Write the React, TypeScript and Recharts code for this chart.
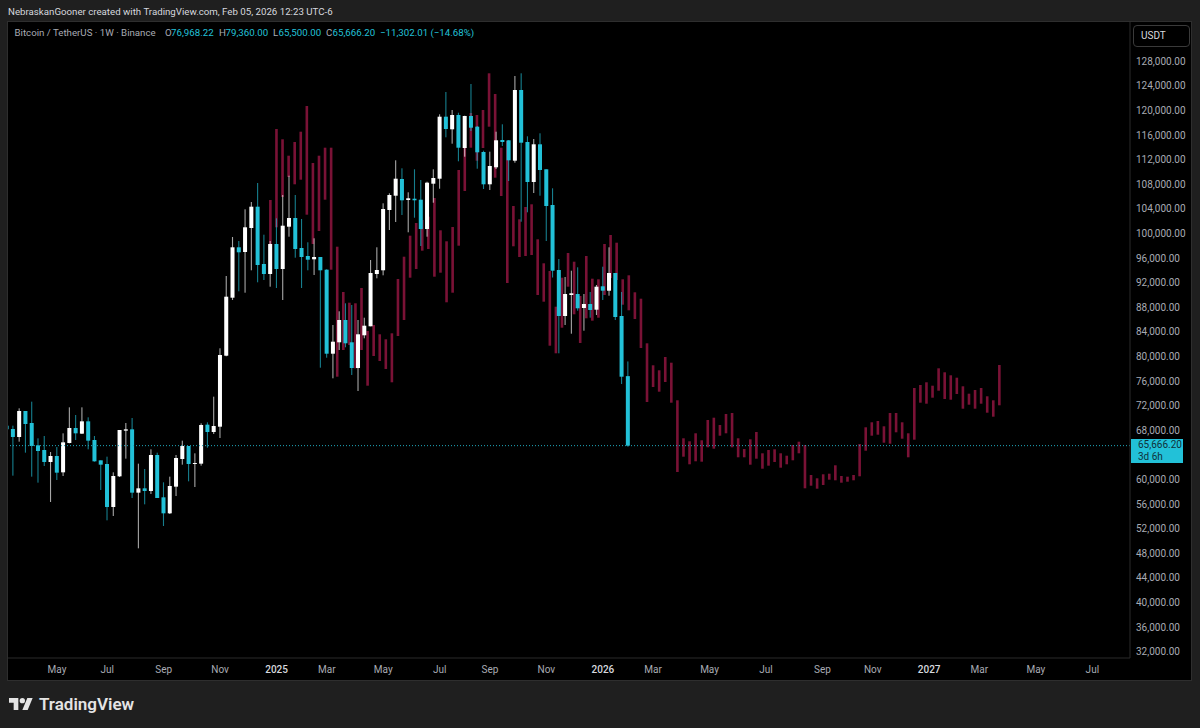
import {
  Bar,
  ComposedChart,
  ReferenceLine,
  XAxis,
  YAxis,
} from "recharts";

// weekly candles, first one is cut off by the left edge of the pane
const candleOpen = [
  68910, 68375, 67074, 71301, 69350, 65719, 64960, 63009, 63984, 61329, 66098,
  68537, 67616, 69621, 66586, 63280, 62684, 55692, 60678, 68104, 68320,
  58022, 58727, 58293, 64147, 57264, 54662, 58998, 63497, 65610, 62684,
  62738, 69079, 67887, 68749, 80293, 89724, 97919, 97155, 101057, 104521,
  95204, 93578, 98456, 94391, 101269, 102683, 97805, 96504, 95968, 96342,
  94277, 80618, 82472, 86098, 82472, 78293, 83610, 85074, 93578, 94179,
  103984, 106309, 109025, 105610, 105821, 105659, 100895, 108260, 109073, 119155,
  117106, 119431, 114065, 119268, 117529, 113415, 108163, 110927, 115366, 115317,
  112000, 123496, 115041, 108537, 114667, 110602, 104797, 94228, 86748, 90163,
  90326, 88049, 88700, 87773, 91578, 90862, 93740, 86748, 76968,
];
const candleHigh = [
  69400, 68917, 71735, 71301, 72819, 66857, 67236, 64635, 65448, 67670, 71898,
  70651, 71898, 70272, 67236, 63280, 63876, 61329, 68212, 69350, 70163,
  62738, 61871, 65069, 64526, 59703, 60624, 64147, 66478, 65610, 64418,
  69296, 69459, 73632, 81496, 93252, 99594, 98943, 104098, 105285, 108374,
  99968, 98943, 102634, 106423, 109561, 106423, 102521, 98732, 99382, 96342,
  94342, 85285, 87513, 88813, 88537, 86098, 86472, 95854, 97919, 105073,
  106699, 112065, 110764, 106862, 110602, 108862, 108586, 110602, 119545, 123171,
  120244, 119805, 119317, 124472, 117642, 113626, 113464, 116716, 117919, 115366,
  125772, 126211, 115968, 115529, 116455, 110602, 107512, 96017, 93090, 94114,
  94667, 90326, 90651, 91789, 94765, 97919, 93740, 90651, 79360,
];
const candleLow = [
  66600, 60787, 66315, 64526, 60624, 59648, 62358, 56505, 60082, 60732, 66044,
  66586, 67562, 65069, 63063, 58456, 53524, 54228, 60570, 63551, 57155,
  48971, 56125, 57806, 57155, 52602, 54553, 57480, 62575, 59865, 58944,
  62413, 65339, 67562, 66911, 80200, 89350, 90765, 90537, 94179, 92228,
  92602, 91513, 91301, 89350, 99643, 96228, 91301, 94179, 93415, 78342,
  79968, 76618, 81220, 81659, 77155, 74553, 83122, 85074, 92878, 93366,
  100732, 102033, 103171, 100358, 102732, 98130, 99643, 105171, 107447, 115805,
  114764, 111903, 112651, 116829, 110699, 107399, 107236, 110651, 114390, 108699,
  111675, 102082, 103610, 106748, 106309, 98943, 93008, 80683, 85285, 83870,
  87610, 84358, 86472, 86911, 89350, 90049, 86098, 75692, 65500,
];
const candleClose = [
  68330, 67074, 71301, 69188, 65610, 64797, 63009, 63984, 61274, 66207, 68537,
  67670, 69621, 66478, 63117, 62575, 55692, 60732, 68212, 68320, 58022,
  58727, 58293, 64147, 57155, 54662, 59106, 63659, 65610, 62684, 62846,
  69025, 67887, 68862, 80407, 89887, 97919, 97106, 101171, 104521, 95041,
  93578, 98456, 94391, 101431, 102683, 97643, 96342, 95903, 96342, 94179,
  80618, 82570, 86098, 82309, 78293, 83773, 85171, 93740, 94228, 104147,
  106423, 109073, 105561, 105886, 105561, 100895, 108423, 109187, 119155, 117155,
  119431, 114114, 119268, 117366, 113366, 108163, 111138, 115317, 115041, 112065,
  123496, 114927, 108537, 114667, 110488, 104634, 94114, 86748, 90326, 90439,
  88000, 88700, 87724, 91513, 90862, 93740, 86586, 76879, 65666.2,
];

// the projected bars pattern, these only have a range, no open/close
const patternHigh = [
  105610, 117155, 115480, 112813, 115041, 116716, 120894, 111626, 112813, 114114,
  114114, 98017, 90651, 88911, 88813, 91301, 84309, 85285, 83773, 82960,
  83935, 92765, 96391, 99805, 101870, 102358, 102895, 105935, 100683, 98895,
  101220, 110488, 114228, 119756, 119431, 120244, 126211, 122846, 114114, 115203,
  104634, 102472, 104472, 104911, 99220, 95317, 94065, 88261, 92976, 96992,
  95578, 90000, 96504, 92813, 92716, 98456, 99919, 98667, 92716, 93366,
  90602, 89561, 82309, 78732, 77919, 80082, 79155, 73041, 66862, 66375,
  67675, 66537, 69838, 70212, 69025, 70814, 70976, 66862, 65123, 66700,
  67887, 64423, 64960, 65074, 64423, 64033, 65773, 66310, 65773, 60895,
  60358, 61009, 61106, 62472, 60732, 60619, 60895, 65936, 68651, 69464,
  69675, 68814, 70976, 70976, 69464, 67675, 75041, 75529, 75968, 75415,
  78244, 77594, 77106, 76716, 75318, 74114, 74716, 75041, 73692, 73041,
  78781,
];
const patternLow = [
  97480, 101171, 106098, 109350, 108163, 108911, 103220, 98456, 100569, 105659,
  94277, 76879, 81220, 82033, 78244, 81220, 75415, 80244, 79431, 78131,
  75968, 83496, 86098, 92976, 94391, 97366, 97643, 93139, 93789, 88976,
  90537, 98179, 107073, 114114, 112000, 114065, 117529, 109236, 106260, 92114,
  98082, 96342, 96504, 96667, 90163, 89074, 81919, 80683, 84846, 91513,
  87025, 82358, 86374, 85984, 86472, 90163, 92927, 92602, 88586, 87675,
  86261, 81545, 72765, 75204, 74440, 76017, 72651, 61383, 63871, 62635,
  63123, 63058, 65399, 65171, 67285, 67675, 65399, 63773, 63773, 62570,
  63545, 61919, 62407, 63009, 62082, 62635, 63285, 64423, 58732, 59155,
  58667, 59269, 60131, 60033, 59643, 59806, 60033, 60684, 64846, 67285,
  67448, 66147, 65984, 67838, 66797, 63773, 66635, 72651, 72488, 73464,
  74602, 73253, 73139, 74066, 71675, 72326, 71675, 72488, 71025, 70375,
  72228,
];

const timeTicks = [7, 15, 24, 33, 42, 50, 59, 68, 76, 85, 94, 102, 111, 120, 129, 137, 146, 154, 163, 172];
const timeLabels = ["May", "Jul", "Sep", "Nov", "2025", "Mar", "May", "Jul", "Sep", "Nov", "2026", "Mar", "May", "Jul", "Sep", "Nov", "2027", "Mar", "May", "Jul"];
// 64,000 sits under the last price box so it is left out, same as the original
const priceTicks = [
  32000, 36000, 40000, 44000, 48000, 52000, 56000, 60000, 68000, 72000, 76000, 80000,
  84000, 88000, 92000, 96000, 100000, 104000, 108000, 112000, 116000, 120000, 124000, 128000,
];
const lastClose = 65666.2;

const UP = "#ffffff";
const DOWN = "#22c1d8";
const PATTERN = "#7a1236";
const FONT = "Roboto, sans-serif";

const rows = patternHigh.map((hi, k) => ({
  week: k - 1,
  patternStep: k,
  pattern: [patternLow[k], hi],
  candle: k < candleOpen.length ? [candleLow[k], candleHigh[k]] : undefined,
  open: candleOpen[k],
  close: candleClose[k],
}));

// Bar gives us the pixel box of [low, high], body is placed inside it
function Candle(props: any) {
  const { x, y, width, height, payload } = props;
  if (!payload?.candle || !Number.isFinite(y) || !Number.isFinite(height)) return null;
  const [low, high] = payload.candle;
  const perUnit = height / (high - low);
  const cx = x + width / 2;
  const top = y + (high - Math.max(payload.open, payload.close)) * perUnit;
  const bodyH = Math.max(Math.abs(payload.open - payload.close) * perUnit, 1);
  const color = payload.close >= payload.open ? UP : DOWN;
  return (
    <g>
      <rect x={cx - 0.55} y={y} width={1.1} height={height} fill={color} fillOpacity={0.65} />
      <rect x={cx - 2} y={top} width={4} height={bodyH} fill={color} />
    </g>
  );
}

function PatternBar(props: any) {
  const { x, y, width, height } = props;
  if (!Number.isFinite(y) || !Number.isFinite(height)) return null;
  return <rect x={x + width / 2 - 1.3} y={y} width={2.6} height={height} fill={PATTERN} />;
}

function TimeTick({ x, y, payload }: any) {
  const label = timeLabels[timeTicks.indexOf(payload.value)];
  const isYear = label?.startsWith("20");
  return (
    <text
      x={x}
      y={y + 6.5}
      textAnchor="middle"
      fontFamily={FONT}
      fontSize={10}
      fontWeight={isYear ? 500 : 400}
      fill={isYear ? "#d6d8de" : "#a8abb3"}
    >
      {label}
    </text>
  );
}

function Legend({ left, children, color = "#a8abb3" }: any) {
  return <span style={{ position: "absolute", left, top: 27, lineHeight: "12px", fontSize: 9.7, color, whiteSpace: "nowrap" }}>{children}</span>;
}

export default function App() {
  return (
    <div
      style={{
        position: "absolute",
        left: 0,
        top: 0,
        width: 1200,
        height: 728,
        background: "#1f1f1f",
        fontFamily: FONT,
        overflow: "hidden",
      }}
    >
      <div style={{ position: "absolute", left: 8, top: 6, lineHeight: "12px", fontSize: 9.7, color: "#d6d8de", whiteSpace: "nowrap" }}>
        NebraskanGooner created with TradingView.com, Feb 05, 2026 12:23 UTC-6
      </div>

      <div style={{ position: "absolute", left: 7, top: 21, width: 1183, height: 658, border: "1px solid #2e2e2e", background: "#000" }} />

      <div style={{ position: "absolute", left: 8, top: 22 }}>
        <ComposedChart width={1183} height={658} data={rows} margin={{ top: 0, right: 0, bottom: 0, left: 0 }}>
          <XAxis
            xAxisId="candles"
            dataKey="week"
            type="number"
            domain={[-0.8, 178]}
            allowDataOverflow
            ticks={timeTicks}
            interval={0}
            height={22}
            tickLine={false}
            axisLine={{ stroke: "#2a2a2a" }}
            tick={<TimeTick />}
          />
          <XAxis
            xAxisId="pattern"
            dataKey="patternStep"
            type="number"
            domain={[-43.2, 141.5]}
            allowDataOverflow
            hide
          />
          <YAxis
            orientation="right"
            domain={[31138, 134553]}
            allowDataOverflow
            ticks={priceTicks}
            interval={0}
            width={61}
            tickLine={false}
            tickSize={0}
            tickMargin={6}
            axisLine={{ stroke: "#2a2a2a" }}
            tick={{ fill: "#a8abb3", fontSize: 10, fontFamily: FONT, dy: -1 }}
            tickFormatter={(v: number) => `${v.toLocaleString("en-US")}.00`}
          />
          <Bar xAxisId="pattern" dataKey="pattern" barSize={4} shape={<PatternBar />} isAnimationActive={false} />
          <Bar xAxisId="candles" dataKey="candle" barSize={4} shape={<Candle />} isAnimationActive={false} />
          <ReferenceLine xAxisId="candles" y={lastClose} stroke="#1fa8bc" strokeDasharray="1 2" />
        </ComposedChart>
      </div>

      <Legend left={14.5}>Bitcoin / TetherUS · 1W · Binance</Legend>
      <Legend left={165}>O</Legend>
      <Legend left={171} color={DOWN}>76,968.22</Legend>
      <Legend left={219}>H</Legend>
      <Legend left={225.5} color={DOWN}>79,360.00</Legend>
      <Legend left={273}>L</Legend>
      <Legend left={278.5} color={DOWN}>65,500.00</Legend>
      <Legend left={326}>C</Legend>
      <Legend left={332.5} color={DOWN}>65,666.20</Legend>
      <Legend left={380} color={DOWN}>−11,302.01 (−14.68%)</Legend>

      <div
        style={{
          position: "absolute",
          left: 1133,
          top: 25,
          width: 55,
          height: 20,
          border: "1px solid #3a3a3a",
          borderRadius: 4,
          fontSize: 10,
          lineHeight: "20px",
          color: "#d6d8de",
          textIndent: 7,
        }}
      >
        USDT
      </div>

      <div
        style={{
          position: "absolute",
          left: 1131,
          top: 439,
          width: 45,
          height: 24,
          paddingLeft: 7,
          background: DOWN,
          fontSize: 10,
          lineHeight: "12px",
          color: "#10323a",
        }}
      >
        65,666.20
        <br />
        3d 6h
      </div>

      <svg style={{ position: "absolute", left: 9, top: 697 }} width={24} height={14} viewBox="0 4 36 18">
        <path d="M14 22H7V11H0V4h14v18zM28 22h-8l7.5-18h8L28 22z" fill="#e4e4e4" />
        <circle cx="20" cy="8" r="4" fill="#e4e4e4" />
      </svg>
      <div style={{ position: "absolute", left: 39, top: 694, lineHeight: "20px", fontSize: 17, fontWeight: 600, color: "#e4e4e4" }}>
        TradingView
      </div>
    </div>
  );
}
